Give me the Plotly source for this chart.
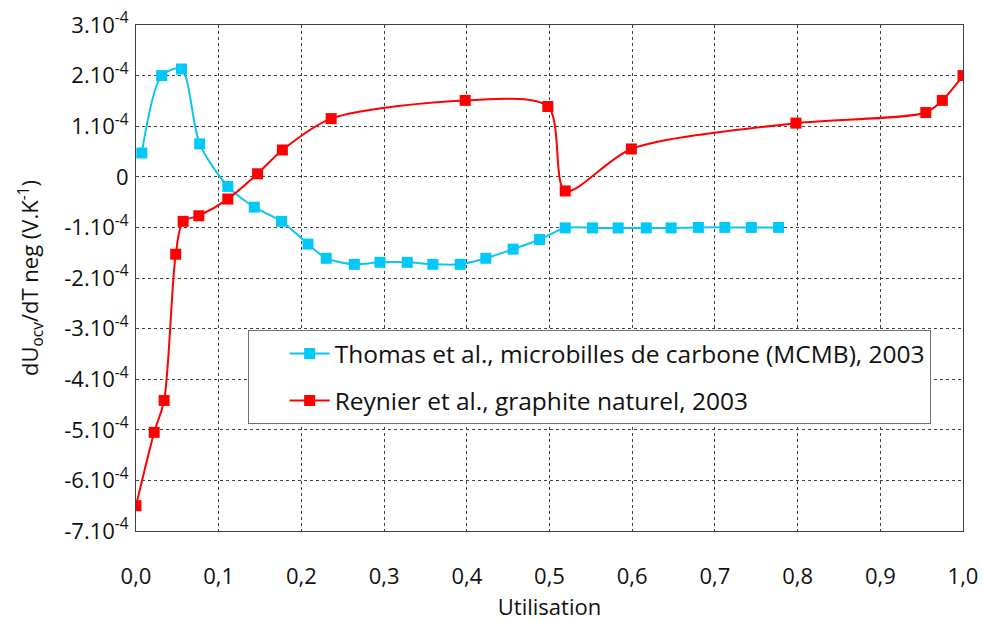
import plotly.graph_objects as go

# Thomas et al. (MCMB) - cyan
thomas_x = [0.007, 0.031, 0.055, 0.077, 0.111, 0.143, 0.176, 0.208, 0.230, 0.264, 0.295,
            0.328, 0.359, 0.392, 0.423, 0.456, 0.488, 0.519, 0.552, 0.583, 0.617, 0.647,
            0.680, 0.712, 0.744, 0.777]
thomas_y = [0.47e-4, 2.0e-4, 2.13e-4, 0.65e-4, -0.19e-4, -0.60e-4, -0.88e-4, -1.33e-4,
            -1.61e-4, -1.73e-4, -1.69e-4, -1.69e-4, -1.73e-4, -1.73e-4, -1.61e-4, -1.43e-4,
            -1.24e-4, -1.01e-4, -1.01e-4, -1.01e-4, -1.01e-4, -1.01e-4, -1.0e-4, -1.0e-4,
            -1.0e-4, -1.0e-4]

# Reynier et al. (graphite naturel) - red
reynier_x = [0.0, 0.022, 0.034, 0.048, 0.057, 0.076, 0.111, 0.147, 0.177, 0.236, 0.398,
             0.498, 0.519, 0.599, 0.798, 0.955, 0.975, 1.0]
reynier_y = [-6.50e-4, -5.05e-4, -4.42e-4, -1.53e-4, -0.88e-4, -0.77e-4, -0.44e-4, 0.06e-4,
             0.53e-4, 1.15e-4, 1.51e-4, 1.39e-4, -0.28e-4, 0.55e-4, 1.06e-4, 1.27e-4,
             1.51e-4, 2.0e-4]

x_ticks = [i / 10 for i in range(11)]
x_labels = ["0,0", "0,1", "0,2", "0,3", "0,4", "0,5", "0,6", "0,7", "0,8", "0,9", "1,0"]
y_ticks = [k * 1e-4 for k in range(3, -8, -1)]
y_labels = ["3.10<sup>-4</sup>", "2.10<sup>-4</sup>", "1.10<sup>-4</sup>", "0",
            "-1.10<sup>-4</sup>", "-2.10<sup>-4</sup>", "-3.10<sup>-4</sup>", "-4.10<sup>-4</sup>",
            "-5.10<sup>-4</sup>", "-6.10<sup>-4</sup>", "-7.10<sup>-4</sup>"]

fig = go.Figure()
fig.add_trace(go.Scatter(
    x=thomas_x, y=thomas_y, mode="lines+markers",
    name="Thomas et al., microbilles de carbone (MCMB), 2003", legendgroup="a",
    line=dict(color="#10C4F0", width=2, shape="spline", smoothing=0.8),
    marker=dict(symbol="square", size=11, color="#00C8F8")
))
fig.add_trace(go.Scatter(
    x=reynier_x, y=reynier_y, mode="lines+markers",
    name="Reynier et al., graphite naturel, 2003", legendgroup="b",
    line=dict(color="#FF0000", width=2, shape="spline", smoothing=0.8),
    marker=dict(symbol="square", size=11, color="#FF0000")
))

axis_common = dict(
    showline=True, linecolor="#404040", linewidth=1, mirror=True,
    showgrid=True, gridcolor="#404040", gridwidth=1, griddash="dot",
    zeroline=False, ticks="", automargin=False,
    tickfont=dict(size=22, color="#111"),
)

fig.update_layout(
    width=983, height=621,
    template="plotly_white",
    paper_bgcolor="white", plot_bgcolor="white",
    font=dict(family="Open Sans, Noto Sans, sans-serif", color="#111"),
    margin=dict(l=136, r=20, t=25, b=90),
    xaxis=dict(
        range=[0, 1], tickvals=x_ticks, ticktext=x_labels, ticklabelstandoff=26,
        title=dict(text="Utilisation", font=dict(size=22), standoff=11),
        **axis_common
    ),
    yaxis=dict(
        range=[-7e-4, 3e-4], tickvals=y_ticks, ticktext=y_labels, ticklabelstandoff=2,
        title=dict(text="dU<sub>ocv</sub>/dT neg (V.K<sup>-1</sup>)", font=dict(size=22), standoff=19),
        **axis_common
    ),
    legend=dict(
        x=0.135, y=0.397, xanchor="left", yanchor="top",
        bgcolor="white", bordercolor="#707070", borderwidth=1,
        font=dict(size=24.5, color="#111"), itemwidth=40, indentation=36,
        tracegroupgap=12,
    ),
    showlegend=True,
)

# drop the default 8px body margin so the figure fills the window exactly
fig.write_html("out.html", config={"displayModeBar": False},
               post_script="document.body.style.margin='0';")
